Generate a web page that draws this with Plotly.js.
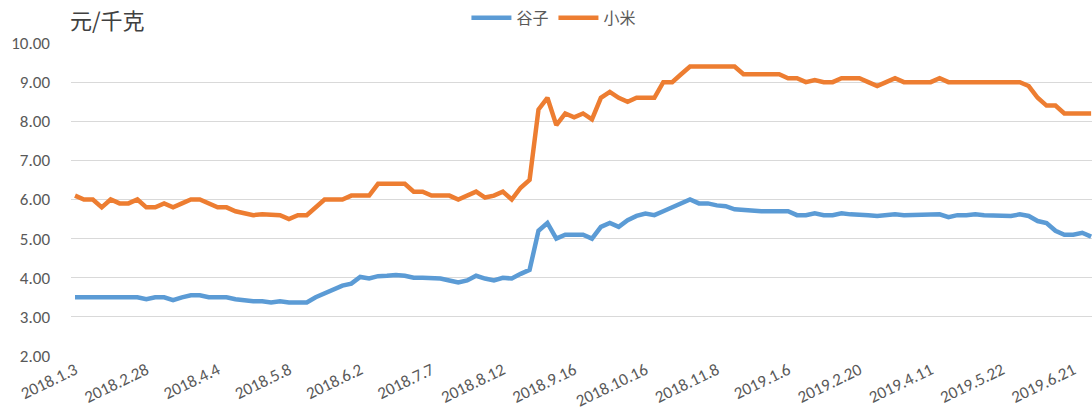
<!DOCTYPE html>
<html>
<head>
<meta charset="utf-8">
<script src="https://cdn.plot.ly/plotly-3.0.1.min.js"></script>
<style>
  html, body { margin: 0; padding: 0; background: #ffffff; }
  #chart { width: 1092px; height: 419px; }
</style>
</head>
<body>
<div id="chart"></div>
<script>
// Tick labels shown on the category axis (every 8th observation)
const tickLabels = ["2018.1.3", "2018.2.28", "2018.4.4", "2018.5.8", "2018.6.2", "2018.7.7",
  "2018.8.12", "2018.9.16", "2018.10.16", "2018.11.8", "2019.1.6", "2019.2.20",
  "2019.4.11", "2019.5.22", "2019.6.21"];
const labelEvery = 8;

const seriesNames = ["谷子", "小米"];

// 谷子 (millet grain) price, yuan/kg
const guzi = [
  3.5, 3.5, 3.5, 3.5, 3.5, 3.5, 3.5, 3.5, 3.45, 3.5,
  3.5, 3.43, 3.5, 3.55, 3.55, 3.5, 3.5, 3.5, 3.45, 3.42,
  3.4, 3.4, 3.37, 3.4, 3.37, 3.37, 3.37, 3.5, 3.6, 3.7,
  3.8, 3.85, 4.02, 3.98, 4.04, 4.05, 4.07, 4.05, 4.0, 4.0,
  3.98, 3.98, 3.93, 3.88, 3.93, 4.05, 3.98, 3.93, 4.0, 3.98,
  4.1, 4.2, 5.2, 5.4, 5.0, 5.1, 5.1, 5.1, 5.0, 5.3,
  5.4, 5.3, 5.47, 5.58, 5.64, 5.6, 5.7, 5.8, 5.9, 6.0,
  5.9, 5.9, 5.85, 5.83, 5.75, 5.73, 5.7, 5.7, 5.7, 5.7,
  5.7, 5.6, 5.6, 5.65, 5.6, 5.6, 5.65, 5.62, 5.62, 5.6,
  5.58, 5.6, 5.62, 5.6, 5.6, 5.6, 5.6, 5.62, 5.55, 5.6,
  5.6, 5.62, 5.6, 5.6, 5.6, 5.58, 5.62, 5.58, 5.45, 5.4,
  5.2, 5.1, 5.1, 5.15, 5.05
];

// 小米 (hulled millet) price, yuan/kg
const xiaomi = [
  6.1, 6.0, 6.0, 5.8, 6.0, 5.9, 5.9, 6.0, 5.8, 5.8,
  5.9, 5.8, 5.9, 6.0, 6.0, 5.9, 5.8, 5.8, 5.7, 5.65,
  5.6, 5.62, 5.6, 5.6, 5.5, 5.6, 5.6, 5.8, 6.0, 6.0,
  6.0, 6.1, 6.1, 6.1, 6.4, 6.4, 6.4, 6.4, 6.2, 6.2,
  6.1, 6.1, 6.1, 6.0, 6.1, 6.2, 6.05, 6.1, 6.2, 6.0,
  6.3, 6.5, 8.3, 8.6, 7.9, 8.2, 8.1, 8.2, 8.05, 8.6,
  8.75, 8.6, 8.5, 8.6, 8.6, 8.6, 9.0, 9.0, 9.2, 9.4,
  9.4, 9.4, 9.4, 9.4, 9.4, 9.2, 9.2, 9.2, 9.2, 9.2,
  9.1, 9.1, 9.0, 9.05, 9.0, 9.0, 9.1, 9.1, 9.1, 9.0,
  8.9, 9.0, 9.1, 9.0, 9.0, 9.0, 9.0, 9.1, 9.0, 9.0,
  9.0, 9.0, 9.0, 9.0, 9.0, 9.0, 9.0, 8.9, 8.6, 8.4,
  8.4, 8.2, 8.2, 8.2, 8.2
];

const yTicks = [2, 3, 4, 5, 6, 7, 8, 9, 10];

const xIdx = guzi.map((_, i) => i);
const tickVals = tickLabels.map((_, i) => i * labelEvery);

const FONT = "Carlito, Calibri, 'Liberation Sans', 'Noto Sans CJK SC', sans-serif";
const CJK = "'Noto Sans CJK SC', 'Liberation Sans', sans-serif";

const traces = [
  { x: xIdx, y: guzi, name: seriesNames[0], type: "scatter", mode: "lines",
    line: { color: "#5B9BD5", width: 4.5, shape: "linear" } },
  { x: xIdx, y: xiaomi, name: seriesNames[1], type: "scatter", mode: "lines",
    line: { color: "#ED7D31", width: 4.5, shape: "linear" } }
];

const layout = {
  width: 1092, height: 419,
  margin: { l: 71, r: 0, t: 43, b: 63 },
  paper_bgcolor: "#ffffff",
  plot_bgcolor: "#ffffff",
  font: { family: FONT, color: "#595959", size: 17 },
  showlegend: true,
  legend: {
    orientation: "h", x: 0.473, xanchor: "center", y: 1.135, yanchor: "top",
    font: { family: CJK, size: 16, color: "#595959" },
    bgcolor: "rgba(0,0,0,0)", itemwidth: 40
  },
  xaxis: {
    range: [-0.45, 114.1],
    tickmode: "array", tickvals: tickVals, ticktext: tickLabels,
    tickangle: -26,
    tickfont: { family: FONT, size: 17, color: "#595959" },
    showgrid: false, zeroline: false, showline: false,
    ticks: "", fixedrange: true
  },
  yaxis: {
    range: [2, 10],
    tickmode: "array", tickvals: yTicks, ticktext: yTicks.map(v => v.toFixed(2)),
    tickfont: { family: FONT, size: 17, color: "#595959" },
    showgrid: true, gridcolor: "#D9D9D9", gridwidth: 1.2,
    zeroline: false, showline: false, ticks: "",
    ticklabelstandoff: 20, fixedrange: true
  },
  annotations: [
    { text: "元/千克", xref: "paper", yref: "paper", x: -0.003, y: 1.02,
      xanchor: "left", yanchor: "bottom", showarrow: false,
      font: { family: CJK, size: 22, color: "#404040" } }
  ]
};

Plotly.newPlot("chart", traces, layout, { displayModeBar: false, staticPlot: true });
</script>
</body>
</html>
